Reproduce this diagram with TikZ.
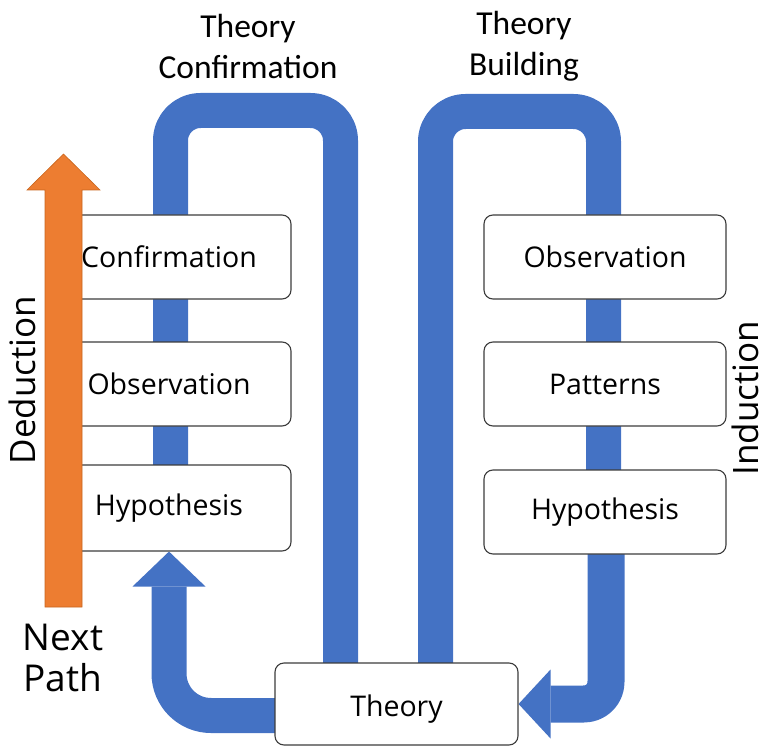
\documentclass[tikz,border=0pt]{standalone}
\usepackage{fontspec}
\setmainfont{Open Sans}
\newfontfamily\titlefont{Carlito}
\usetikzlibrary{backgrounds}
\definecolor{flowblue}{HTML}{4472C4}
\definecolor{arroworange}{HTML}{ED7D31}
\definecolor{arrowedge}{HTML}{C8661F}
\definecolor{boxline}{HTML}{3C3C3C}
\begin{document}
\begin{tikzpicture}[x=1pt,y=-1pt,
  stage/.style={draw=boxline, fill=white, line width=1.1pt, rounded corners=9pt,
    inner sep=0pt, font=\fontsize{28.5}{32}\selectfont},
  leftstage/.style={stage, minimum width=244pt},
  rightstage/.style={stage, minimum width=242pt},
  band/.style={draw=flowblue, line width=35pt, line cap=butt, line join=round, rounded corners=30pt},
  title/.style={font=\titlefont\fontsize{33.5}{41}\selectfont, align=center},
  sidelabel/.style={font=\fontsize{35}{40}\selectfont, rotate=90, inner sep=1pt}]
\useasboundingbox (0,0) rectangle (768,746);

% deduction column
\node[leftstage, minimum height=84pt] (confL) at (169,257) {Confirmation};
\node[leftstage, minimum height=84pt] (obsL)  at (169,384) {Observation};
\node[leftstage, minimum height=86pt] (hypL)  at (169,508) {Hypothesis};

% induction column
\node[rightstage, minimum height=84pt] (obsR) at (605,257) {Observation};
\node[rightstage, minimum height=84pt] (patR) at (605,384) {Patterns};
\node[rightstage, minimum height=84pt] (hypR) at (605,512) {Hypothesis};

% theory (text sits a little low in its box)
\node[stage, minimum width=243pt, minimum height=82pt] (theory) at (396.5,704)
  {\raisebox{-5pt}[\height][\depth]{Theory}};

% loop corners and bends
\coordinate (lt1) at (170.5,110.5);
\coordinate (lt2) at (340.5,110.5);
\coordinate (rt1) at (435.5,111.5);
\coordinate (rt2) at (603.5,111.5);
\coordinate (rb)  at (606,705.5);
\coordinate (lb)  at (169,715.5);
\coordinate (lbh) at ([yshift=-35pt]hypL.south);

\begin{scope}[on background layer]
  % theory confirmation loop
  \draw[band] (hypL.center -| lt1) -- (lt1) -- (lt2) -- (lt2 |- theory.center);
  % theory building loop
  \draw[band] (rt1 |- theory.center) -- (rt1) -- (rt2) -- (rt2 |- hypR.center);
  % induction: hypothesis into theory
  \draw[band, line width=37pt, rounded corners=22pt]
    (hypR.center -| rb) -- (rb |- theory.east) -- ([xshift=32pt]theory.east);
  \fill[flowblue] ([xshift=32pt,yshift=34.5pt]theory.east) -- (theory.east)
    -- ([xshift=32pt,yshift=-34.5pt]theory.east) -- cycle;
  % deduction: theory into hypothesis
  \draw[band, rounded corners=42pt]
    (theory.center |- lb) -- (lb) -- (lbh);
  \fill[flowblue] (hypL.south) -- ([xshift=-36.5pt]lbh) -- ([xshift=36.5pt]lbh) -- cycle;
\end{scope}

% next-path arrow
\filldraw[fill=arroworange, draw=arrowedge, line width=0.6pt]
  (45,607) -- (45,190) -- (27,190) -- (63.5,154) -- (100,190) -- (82,190) -- (82,607) -- cycle;

% labels
\node[title] (tconf) at (248,46) {Theory\\Confirmation};
\node[title] (tbuild) at (524,46) {Theory\\Building};
\node[sidelabel] (ded) at (22,380) {Deduction};
\node[sidelabel] (ind) at (745,398) {Induction};
\node[font=\fontsize{37}{41}\selectfont, align=center] (next) at (63,658) {Next\\Path};
\end{tikzpicture}
\end{document}
